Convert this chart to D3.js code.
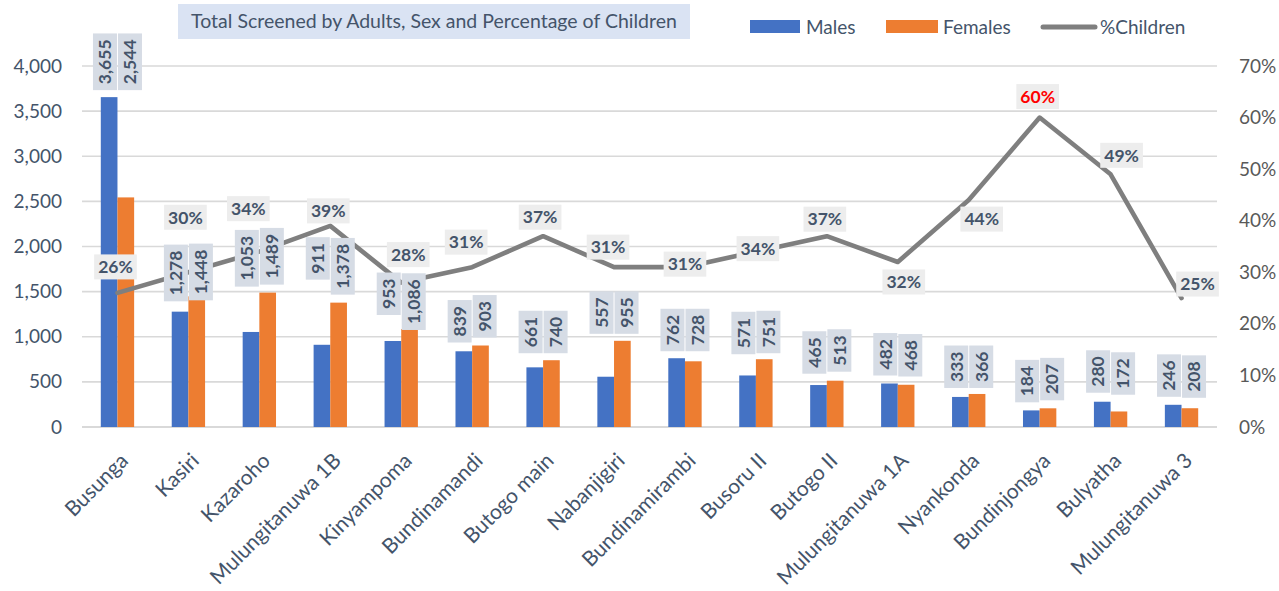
<!DOCTYPE html>
<html>
<head>
<meta charset="utf-8">
<script src="https://cdn.jsdelivr.net/npm/d3@7/dist/d3.min.js"></script>
<style>
  html, body { margin: 0; padding: 0; background: #ffffff; }
  svg { display: block; font-family: Lato, "Noto Sans", sans-serif; }
</style>
</head>
<body>
<svg id="chart" width="1279" height="591"></svg>
<script>
// Screening sites, in display order
const categories = [
  "Busunga", "Kasiri", "Kazaroho", "Mulungitanuwa 1B", "Kinyampoma",
  "Bundinamandi", "Butogo main", "Nabanjigiri", "Bundinamirambi", "Busoru II",
  "Butogo II", "Mulungitanuwa 1A", "Nyankonda", "Bundinjongya", "Bulyatha",
  "Mulungitanuwa 3"
];
// Adults screened, by sex
const males   = [3655, 1278, 1053, 911, 953, 839, 661, 557, 762, 571, 465, 482, 333, 184, 280, 246];
const females = [2544, 1448, 1489, 1378, 1086, 903, 740, 955, 728, 751, 513, 468, 366, 207, 172, 208];
// Share of children among those screened
const pctChildren = [0.26, 0.30, 0.34, 0.39, 0.28, 0.31, 0.37, 0.31, 0.31, 0.34, 0.37, 0.32, 0.44, 0.60, 0.49, 0.25];

// Axis ticks
const leftTicks  = [0, 500, 1000, 1500, 2000, 2500, 3000, 3500, 4000];
const rightTicks = [0, 0.1, 0.2, 0.3, 0.4, 0.5, 0.6, 0.7];

const title = "Total Screened by Adults, Sex and Percentage of Children";
const seriesNames = ["Males", "Females", "%Children"];

// Label placement tweaks (pixels)
const pctLabelOffset = [
  [-2, -26], [-3, -55], [-11, -43], [-2, -15], [7, -28], [-6, -25], [-3, -19], [-6, -20],
  [0, -3], [2, -3], [-2, -17], [6, 20], [13, 19], [-2, -21], [11, -19], [16, -14]
];
const barLabelGap = [
  [7, 7], [-5, -4], [6, 8], [23, 8], [14, -1], [3, 8], [7, 7], [7, 7],
  [7, 7], [5, 6], [7, 9], [8, 7], [6, 6], [6, 8], [9, 7], [8, 7]
];

const C = {
  male: "#4472C4", female: "#ED7D31", line: "#7F7F7F",
  grid: "#D9D9D9", text: "#44546A", rightText: "#595959",
  barLabelBg: "#D6DCE5", pctLabelBg: "#EDEDED", titleBg: "#DAE3F3", highlight: "#FF0000"
};

const svg = d3.select("#chart");
const plot = { left: 82, right: 1217, top: 66, bottom: 427 };

const x = d3.scaleBand().domain(categories).range([plot.left, plot.right])
  .paddingInner(0.53).paddingOuter(0.265);
const xSeries = d3.scaleBand().domain(["Males", "Females"]).range([0, x.bandwidth()]);
const yL = d3.scaleLinear().domain([0, 4000]).range([plot.bottom, plot.top]);
const yR = d3.scaleLinear().domain([0, 0.7]).range([plot.bottom, plot.top]);

const fmtN = d3.format(",");
const fmtP = d3.format(".0%");

// Gridlines
svg.append("g").selectAll("line").data(leftTicks).join("line")
  .attr("x1", plot.left).attr("x2", plot.right)
  .attr("y1", d => yL(d)).attr("y2", d => yL(d))
  .attr("stroke", C.grid).attr("stroke-width", d => d === 0 ? 2.2 : 1.6);

// Left axis
const gL = svg.append("g").attr("transform", `translate(${plot.left},0)`)
  .call(d3.axisLeft(yL).tickValues(leftTicks).tickSize(0).tickPadding(20).tickFormat(fmtN));
gL.select(".domain").remove();
gL.selectAll("text").attr("font-size", 19).attr("fill", C.text).attr("font-family", "Lato");

// Right axis
const gR = svg.append("g").attr("transform", `translate(${plot.right},0)`)
  .call(d3.axisRight(yR).tickValues(rightTicks).tickSize(0).tickPadding(22).tickFormat(fmtP));
gR.select(".domain").remove();
gR.selectAll("text").attr("font-size", 19).attr("fill", C.rightText).attr("font-family", "Lato");

// Category axis
const gX = svg.append("g").attr("transform", `translate(0,${plot.bottom})`)
  .call(d3.axisBottom(x).tickSize(0));
gX.select(".domain").remove();
gX.selectAll(".tick").attr("transform", d => `translate(${x(d) + x.bandwidth() / 2},0)`);
gX.selectAll("text")
  .attr("x", 0).attr("y", 0).attr("dy", 0)
  .attr("transform", "translate(12,35) rotate(-45)")
  .attr("text-anchor", "end")
  .attr("font-size", 21).attr("fill", C.text).attr("font-family", "Lato");

// Bars
const rows = categories.map((c, i) => ({ c, i, m: males[i], f: females[i], p: pctChildren[i] }));
const groups = svg.append("g").selectAll("g").data(rows).join("g")
  .attr("transform", d => `translate(${x(d.c)},0)`);
groups.append("rect")
  .attr("x", xSeries("Males")).attr("width", xSeries.bandwidth())
  .attr("y", d => yL(d.m)).attr("height", d => yL(0) - yL(d.m))
  .attr("fill", C.male);
groups.append("rect")
  .attr("x", xSeries("Females")).attr("width", xSeries.bandwidth())
  .attr("y", d => yL(d.f)).attr("height", d => yL(0) - yL(d.f))
  .attr("fill", C.female);

// %Children line
const cx = c => x(c) + x.bandwidth() / 2;
svg.append("path")
  .datum(rows)
  .attr("d", d3.line().x(d => cx(d.c)).y(d => yR(d.p)))
  .attr("fill", "none").attr("stroke", C.line).attr("stroke-width", 4.6)
  .attr("stroke-linejoin", "round").attr("stroke-linecap", "round");

// Bar value labels (rotated, boxed)
const barLabels = svg.append("g");
rows.forEach(d => {
  const topY = Math.min(yL(d.m), yL(d.f));
  [["m", -12.5, 0], ["f", 12.5, 1]].forEach(([key, dx, k]) => {
    const g = barLabels.append("g");
    const t = g.append("text")
      .text(fmtN(d[key]))
      .attr("font-size", 17.5).attr("font-weight", 700).attr("font-family", "Lato")
      .attr("fill", C.text).attr("text-anchor", "middle").attr("dy", "0.36em");
    const len = t.node().getComputedTextLength();
    const h = len + 12, w = 24;
    const bottom = topY - barLabelGap[d.i][k];
    const centerY = bottom - h / 2;
    const centerX = cx(d.c) + dx;
    g.insert("rect", "text")
      .attr("x", centerX - w / 2).attr("y", bottom - h).attr("width", w).attr("height", h)
      .attr("fill", C.barLabelBg);
    t.attr("transform", `translate(${centerX},${centerY}) rotate(-90)`);
  });
});

// Percentage labels
const maxP = d3.max(pctChildren);
const pctLabels = svg.append("g");
rows.forEach(d => {
  const [ox, oy] = pctLabelOffset[d.i];
  const px = cx(d.c) + ox, py = yR(d.p) + oy;
  const g = pctLabels.append("g");
  const t = g.append("text").text(fmtP(d.p))
    .attr("x", px).attr("y", py).attr("dy", "0.36em")
    .attr("text-anchor", "middle")
    .attr("font-size", 17.5).attr("font-weight", 700).attr("font-family", "Lato")
    .attr("fill", d.p === maxP ? C.highlight : C.text);
  const w = t.node().getComputedTextLength() + 8, h = 25;
  g.insert("rect", "text")
    .attr("x", px - w / 2).attr("y", py - h / 2).attr("width", w).attr("height", h)
    .attr("fill", C.pctLabelBg);
});

// Title
const tg = svg.append("g");
tg.append("text").text(title)
  .attr("x", 434).attr("y", 21.5).attr("dy", "0.35em").attr("text-anchor", "middle")
  .attr("font-size", 19.5).attr("font-family", "Lato").attr("fill", C.text);
tg.insert("rect", "text").attr("x", 178).attr("y", 4).attr("width", 512).attr("height", 35)
  .attr("fill", C.titleBg);

// Legend
const legend = svg.append("g").attr("font-family", "Lato").attr("font-size", 19).attr("fill", C.text);
legend.append("rect").attr("x", 750).attr("y", 20).attr("width", 50).attr("height", 13).attr("fill", C.male);
legend.append("text").attr("x", 806).attr("y", 27).attr("dy", "0.35em").text(seriesNames[0]);
legend.append("rect").attr("x", 886).attr("y", 20).attr("width", 52).attr("height", 13).attr("fill", C.female);
legend.append("text").attr("x", 943).attr("y", 27).attr("dy", "0.35em").text(seriesNames[1]);
legend.append("line").attr("x1", 1043).attr("x2", 1095).attr("y1", 27).attr("y2", 27)
  .attr("stroke", C.line).attr("stroke-width", 5).attr("stroke-linecap", "round");
legend.append("text").attr("x", 1100).attr("y", 27).attr("dy", "0.35em").text(seriesNames[2]);
</script>
</body>
</html>
